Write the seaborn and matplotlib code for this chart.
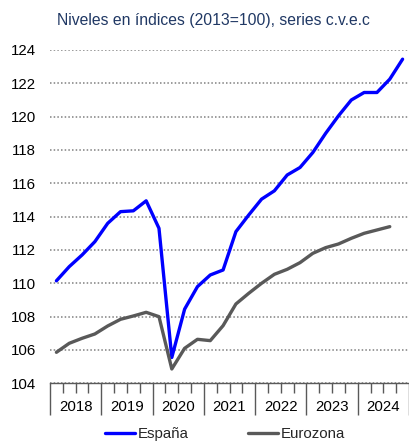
import numpy as np
import pandas as pd
import matplotlib
matplotlib.use("Agg")
import matplotlib.pyplot as plt
import matplotlib.transforms as mtransforms
import seaborn as sns

# Quarterly GDP levels, index 2013=100 (seasonally and calendar adjusted)
years = ["2018", "2019", "2020", "2021", "2022", "2023", "2024"]
espana = [110.15, 111.0, 111.7, 112.5,
          113.6, 114.3, 114.35, 114.95,
          113.3, 105.55, 108.45, 109.8,
          110.5, 110.8, 113.1, 114.1,
          115.05, 115.55, 116.5, 116.95,
          117.85, 119.0, 120.05, 121.0,
          121.45, 121.45, 122.25, 123.45]
eurozona = [105.86, 106.4, 106.7, 106.96,
            107.44, 107.84, 108.04, 108.26,
            108.0, 104.86, 106.1, 106.64,
            106.56, 107.46, 108.76, 109.4,
            110.0, 110.54, 110.84, 111.24,
            111.8, 112.14, 112.36, 112.7,
            113.0, 113.2, 113.4]
yticks = [104, 106, 108, 110, 112, 114, 116, 118, 120, 122, 124]

sns.set_theme(style="white")
plt.rcParams["font.family"] = ["Liberation Sans", "DejaVu Sans"]

n_q = len(years) * 4
df = pd.concat([
    pd.DataFrame({"pos": np.arange(len(espana)) + 0.5, "valor": espana, "serie": "España"}),
    pd.DataFrame({"pos": np.arange(len(eurozona)) + 0.5, "valor": eurozona, "serie": "Eurozona"}),
])

fig = plt.figure(figsize=(4.09, 4.43), dpi=100)
ax = fig.add_axes([50 / 409, 1 - 383.3 / 443, 1 - 50 / 409, (383.3 - 50) / 443])

sns.lineplot(data=df, x="pos", y="valor", hue="serie",
             palette={"España": "#0000FF", "Eurozona": "#595959"},
             linewidth=2.4, ax=ax, legend=False, zorder=3)

ax.set_xlim(0, n_q)
ax.set_ylim(104, 124)
ax.set_yticks(yticks)
ax.set_yticklabels([str(t) for t in yticks], fontsize=10.8, color="#000000")
ax.tick_params(axis="y", length=0, pad=10)
ax.set_xlabel("")
ax.set_ylabel("")

# dotted horizontal grid
ax.set_axisbelow(True)
ax.yaxis.grid(True, color="#808080", linestyle=(0, (1, 1.4)), linewidth=1.1)
ax.xaxis.grid(False)

for s in ["top", "right", "left"]:
    ax.spines[s].set_visible(False)
ax.spines["bottom"].set_color("#595959")
ax.spines["bottom"].set_linewidth(1.0)
ax.spines["bottom"].set_zorder(2.5)

# year separators (long) and quarter ticks (short)
ax.set_xticks(np.arange(0, n_q + 1, 4))
ax.set_xticklabels([])
ax.set_xticks([q for q in range(n_q + 1) if q % 4], minor=True)
ax.tick_params(axis="x", which="major", direction="out", length=23, width=1.0,
               color="#595959", bottom=True)
ax.tick_params(axis="x", which="minor", direction="out", length=7, width=1.0,
               color="#595959", bottom=True)

trans = mtransforms.blended_transform_factory(ax.transData, ax.transAxes)
off = mtransforms.ScaledTranslation(0, -23.5 / 100, fig.dpi_scale_trans)
for i, y in enumerate(years):
    ax.text(4 * i + 2, 0, y, transform=trans + off, ha="center", va="center",
            fontsize=10.8, color="#000000")

fig.text(0.521, 1 - 20 / 443, "Niveles en índices (2013=100), series c.v.e.c",
         ha="center", va="center", fontsize=11.3, color="#203864")

handles = [plt.Line2D([], [], color="#0000FF", linewidth=2.4),
           plt.Line2D([], [], color="#595959", linewidth=2.4)]
fig.legend(handles, ["España", "Eurozona"], loc="center", ncol=2,
           bbox_to_anchor=(0.55, 1 - 434 / 443), frameon=False, fontsize=10.8,
           handlelength=2.0, handletextpad=0.15, columnspacing=4.0)

fig.savefig("out.png", dpi=100)
